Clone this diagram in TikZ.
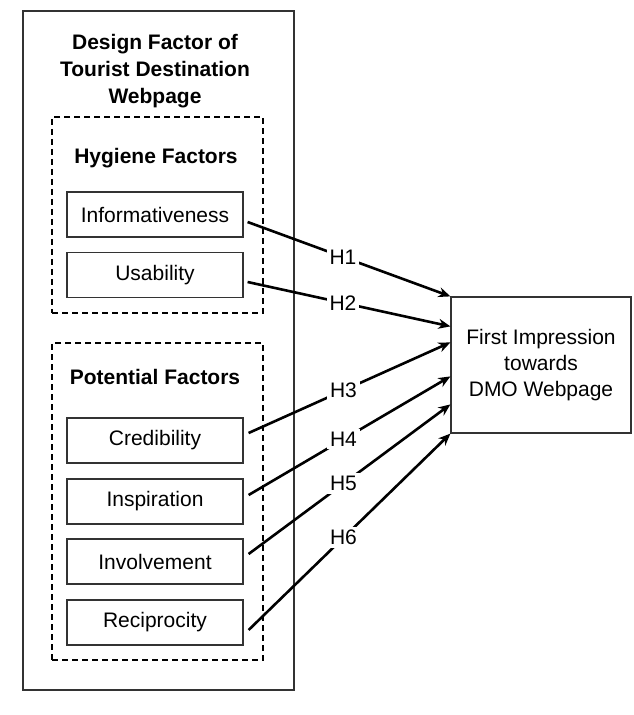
\documentclass[tikz,border=0pt]{standalone}
\usepackage{fontspec}
\setmainfont{Liberation Sans}
\usepackage{tikz}
\usetikzlibrary{calc,arrows.meta}

\begin{document}
\begin{tikzpicture}[
  x=0.5pt, y=-0.5pt,
  outerbox/.style={draw=black!80, line width=0.6pt, minimum width=135.5pt, minimum height=339.5pt, inner sep=0pt},
  groupbox/.style={draw, dashed, dash pattern=on 3pt off 2pt, line width=1pt, minimum width=105.5pt, inner sep=0pt},
  factor/.style={draw=black!80, line width=0.6pt, minimum width=88pt, minimum height=22.5pt, inner sep=0pt, font=\fontsize{10.5}{13}\selectfont},
  result/.style={draw=black!80, line width=0.6pt, minimum width=90pt, minimum height=68pt, align=center, font=\fontsize{10.5}{13}\selectfont},
  heading/.style={align=center, font=\fontsize{10.5}{13.5}\selectfont\bfseries},
  arr/.style={line width=1.3pt, -{Stealth[length=6pt, width=5pt]}},
  hlabel/.style={pos=0.47, fill=white, inner sep=1.5pt, font=\fontsize{10.5}{13}\selectfont}
]
  \useasboundingbox (0,0) rectangle (633,715);

  % Frames
  \node[outerbox] (design) at (158.5,350.5) {};
  \node[groupbox, minimum height=98pt] (hygiene) at (157.5,215) {};
  \node[groupbox, minimum height=158.5pt] (potential) at (157.5,501.5) {};

  % Headings
  \node[heading] (title) at (155,71) {Design Factor of\\Tourist Destination\\Webpage};
  \node[heading] (hyg) at (156,158) {Hygiene Factors};
  \node[heading] (pot) at (155,377) {Potential Factors};

  % Factors
  \node[factor] (info)  at (155,214.5) {Informativeness};
  \node[factor] (usab)  at (155,275)   {Usability};
  \node[factor] (cred)  at (155,440.5) {Credibility};
  \node[factor] (insp)  at (155,501.5) {Inspiration};
  \node[factor] (invo)  at (155,561.5) {Involvement};
  \node[factor] (reci)  at (155,622.5) {Reciprocity};

  % Outcome
  \node[result] (dmo) at (541,365) {First Impression\\towards\\DMO Webpage};

  % Hypotheses
  \draw[arr] ($(info.east)+(4,7.5)$) -- (dmo.north west) node[hlabel] {H1};
  \draw[arr] ($(usab.east)+(4,7)$) -- ($(dmo.north west)+(0,30)$) node[hlabel] {H2};
  \draw[arr] ($(cred.east)+(5,-7.5)$) -- ($(dmo.north west)+(0,46)$) node[hlabel] {H3};
  \draw[arr] ($(insp.east)+(5,-6.5)$) -- ($(dmo.north west)+(0,80)$) node[hlabel] {H4};
  \draw[arr] ($(invo.east)+(5,-7.5)$) -- ($(dmo.north west)+(0,108)$) node[hlabel] {H5};
  \draw[arr] ($(reci.east)+(5,7.5)$) -- (dmo.south west) node[hlabel] {H6};
\end{tikzpicture}
\end{document}
